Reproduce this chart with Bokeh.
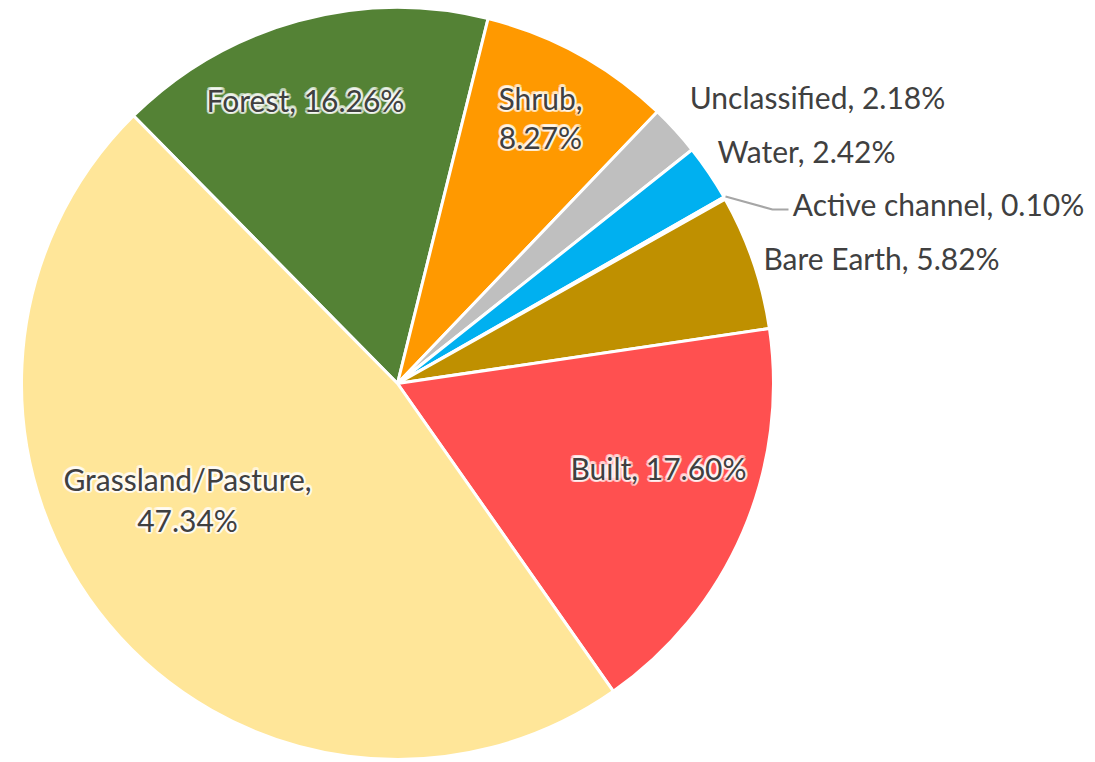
import numpy as np
from bokeh.plotting import figure
from bokeh.models import Range1d, ColumnDataSource
from bokeh.core.properties import value
from bokeh.embed import file_html
from bokeh.resources import INLINE

# Data (clockwise order, starting with Forest)
categories = ["Forest", "Shrub", "Unclassified", "Water", "Active channel",
              "Bare Earth", "Built", "Grassland/Pasture"]
percents = [16.26, 8.27, 2.18, 2.42, 0.10, 5.82, 17.60, 47.34]
colors = ["#548235", "#FF9900", "#BFBFBF", "#00B0F0", "#2F5597",
          "#BF9000", "#FF5050", "#FFE699"]

W, H = 1095, 762
p = figure(width=W, height=H, output_backend="svg", toolbar_location=None,
           x_range=Range1d(0, W), y_range=Range1d(0, H), min_border=0)
p.axis.visible = False
p.grid.visible = False
p.outline_line_color = None
p.background_fill_color = "white"

OFF = 0
def px(x):
    return x - OFF
def py(y):
    return (H + OFF) - y

cx, cy, r = px(397), py(383), 376
a0 = np.deg2rad(134.6)
vals = np.array(percents) / sum(percents)
cum = np.concatenate([[0], np.cumsum(vals)])
ends = a0 - cum[:-1] * 2 * np.pi
starts = a0 - cum[1:] * 2 * np.pi

src = ColumnDataSource(dict(start=starts, end=ends, color=colors, cat=categories))
p.wedge(x=cx, y=cy, radius=r, start_angle="start", end_angle="end",
        direction="anticlock", fill_color="color", line_color="white",
        line_width=3, source=src)

# leader line for Active channel
p.line(x=[px(725), px(772), px(788)], y=[py(196), py(209), py(209)],
       line_color="#A6A6A6", line_width=2)

FONT = "Lato"
FS = "30px"
TXT = "#404040"

# (text lines, center x, center y, inside?)
labels = [
    ([f"{categories[0]}, {percents[0]:.2f}%"], 305, [99], True),
    ([f"{categories[1]},", f"{percents[1]:.2f}%"], 540, [97, 136], True),
    ([f"{categories[2]}, {percents[2]:.2f}%"], 817, [96], False),
    ([f"{categories[3]}, {percents[3]:.2f}%"], 806, [150], False),
    ([f"{categories[4]}, {percents[4]:.2f}%"], 938, [203], False),
    ([f"{categories[5]}, {percents[5]:.2f}%"], 881, [257], False),
    ([f"{categories[6]}, {percents[6]:.2f}%"], 658, [467], True),
    ([f"{categories[7]},", f"{percents[7]:.2f}%"], 187, [478, 519], True),
]

for lines, x, ys, inside in labels:
    xs = [px(x)] * len(lines)
    yy = [py(v) for v in ys]
    if inside:
        for ang in np.linspace(0, 2 * np.pi, 12, endpoint=False):
            p.text(x=xs, y=yy, text=lines, text_font=value(FONT),
                   text_font_size=FS, text_color="white", text_alpha=0.45,
                   text_align="center", text_baseline="middle",
                   x_offset=2.5 * np.cos(ang), y_offset=2.5 * np.sin(ang))
    p.text(x=xs, y=yy, text=lines, text_font=value(FONT), text_font_size=FS,
           text_color=TXT, text_align="center", text_baseline="middle")

open("out.html", "w").write(file_html(p, INLINE))
